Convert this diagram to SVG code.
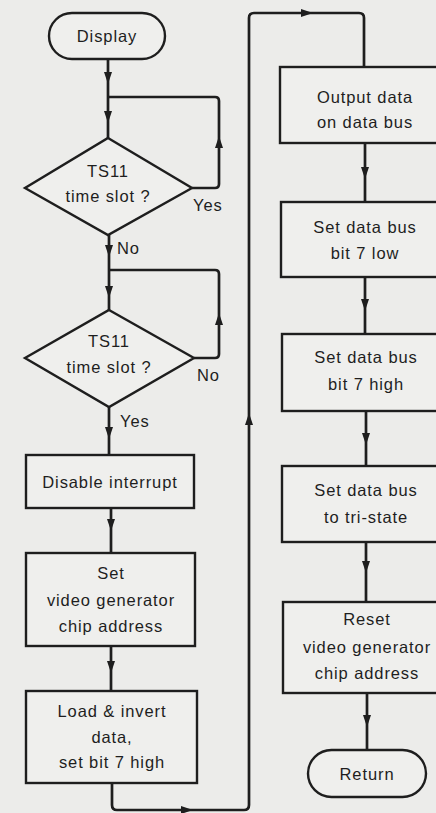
<svg xmlns="http://www.w3.org/2000/svg" xmlns:xlink="http://www.w3.org/1999/xlink" width="436" height="813" viewBox="0 0 436 813">
<style>
.bg{fill:#ececea}
.shape{fill:#efefed;stroke:#1e1e1e;stroke-width:2.4}
.conn{fill:none;stroke:#1e1e1e;stroke-width:2.7;stroke-linejoin:round}
.ah{fill:#1e1e1e}
text{font-family:"Liberation Sans",Arial,sans-serif;font-size:16.5px;letter-spacing:0.9px;fill:#1e1e1e;text-anchor:middle;dominant-baseline:central}
.lbl{text-anchor:start}
</style>
<defs>
<path id="ah" d="M-4,-12 L4,-12 L0,0 Z"/>
</defs>
<rect class="bg" x="0" y="0" width="436" height="813"/>

<g id="connectors">
<path class="conn" d="M108,59 V138"/>
<path class="conn" d="M192,188 H215 Q219,188 219,184 V101 Q219,97 215,97 H108"/>
<path class="conn" d="M109,235 V310"/>
<path class="conn" d="M194,358 H215 Q219,358 219,354 V274 Q219,270 215,270 H109"/>
<path class="conn" d="M109,407 V455"/>
<path class="conn" d="M111,508 V553"/>
<path class="conn" d="M111,646 V691"/>
<path class="conn" d="M112,783 V805 Q112,810 117,810 H244 Q249,810 249,805 V18 Q249,13 254,13 H359 Q364,13 364,18 V67"/>
<path class="conn" d="M365,143 V202"/>
<path class="conn" d="M365,277 V334"/>
<path class="conn" d="M366,411 V466"/>
<path class="conn" d="M366,542 V602"/>
<path class="conn" d="M367,693 V750"/>
<use href="#ah" class="ah" transform="translate(108,84)"/>
<use href="#ah" class="ah" transform="translate(108,123)"/>
<use href="#ah" class="ah" transform="translate(219,136) rotate(180)"/>
<use href="#ah" class="ah" transform="translate(109,257)"/>
<use href="#ah" class="ah" transform="translate(109,298)"/>
<use href="#ah" class="ah" transform="translate(219,313) rotate(180)"/>
<use href="#ah" class="ah" transform="translate(109,439)"/>
<use href="#ah" class="ah" transform="translate(111,531)"/>
<use href="#ah" class="ah" transform="translate(111,673)"/>
<use href="#ah" class="ah" transform="translate(193,810) rotate(-90)"/>
<use href="#ah" class="ah" transform="translate(249,413) rotate(180)"/>
<use href="#ah" class="ah" transform="translate(313,13) rotate(-90)"/>
<use href="#ah" class="ah" transform="translate(365,179)"/>
<use href="#ah" class="ah" transform="translate(365,311)"/>
<use href="#ah" class="ah" transform="translate(366,445)"/>
<use href="#ah" class="ah" transform="translate(366,573)"/>
<use href="#ah" class="ah" transform="translate(367,727)"/>
<text class="lbl" x="193" y="205">Yes</text>
<text class="lbl" x="117" y="248">No</text>
<text class="lbl" x="197" y="375">No</text>
<text class="lbl" x="120" y="421">Yes</text>
</g>

<g id="display">
<rect class="shape" x="49" y="13" width="116" height="46" rx="23"/>
<text x="107" y="36">Display</text>
</g>
<g id="ts11-a">
<polygon class="shape" points="108,138 192,188 108,235 25,188"/>
<text x="108" y="171">TS11</text>
<text x="108" y="196">time slot ?</text>
</g>
<g id="ts11-b">
<polygon class="shape" points="109,310 194,358 109,407 25,358"/>
<text x="109" y="341">TS11</text>
<text x="109" y="367">time slot ?</text>
</g>
<g id="disable">
<rect class="shape" x="26" y="455" width="168" height="53"/>
<text x="110" y="482">Disable interrupt</text>
</g>
<g id="set-addr">
<rect class="shape" x="26" y="553" width="169" height="93"/>
<text x="111" y="573">Set</text>
<text x="111" y="600">video generator</text>
<text x="111" y="626">chip address</text>
</g>
<g id="load">
<rect class="shape" x="26" y="691" width="171" height="92"/>
<text x="112" y="711">Load &amp; invert</text>
<text x="112" y="737">data,</text>
<text x="112" y="762">set bit 7 high</text>
</g>
<g id="output">
<rect class="shape" x="280" y="67" width="170" height="76"/>
<text x="365" y="97">Output data</text>
<text x="365" y="122">on data bus</text>
</g>
<g id="bit7low">
<rect class="shape" x="281" y="202" width="170" height="75"/>
<text x="365" y="227">Set data bus</text>
<text x="365" y="253">bit 7 low</text>
</g>
<g id="bit7high">
<rect class="shape" x="282" y="334" width="170" height="77"/>
<text x="366" y="357">Set data bus</text>
<text x="366" y="384">bit 7 high</text>
</g>
<g id="tristate">
<rect class="shape" x="282" y="466" width="170" height="76"/>
<text x="366" y="490">Set data bus</text>
<text x="366" y="517">to tri-state</text>
</g>
<g id="reset-addr">
<rect class="shape" x="283" y="602" width="170" height="91"/>
<text x="367" y="619">Reset</text>
<text x="367" y="647">video generator</text>
<text x="367" y="673">chip address</text>
</g>
<g id="return">
<rect class="shape" x="308" y="750" width="118" height="47" rx="23.5"/>
<text x="367" y="774">Return</text>
</g>
</svg>
